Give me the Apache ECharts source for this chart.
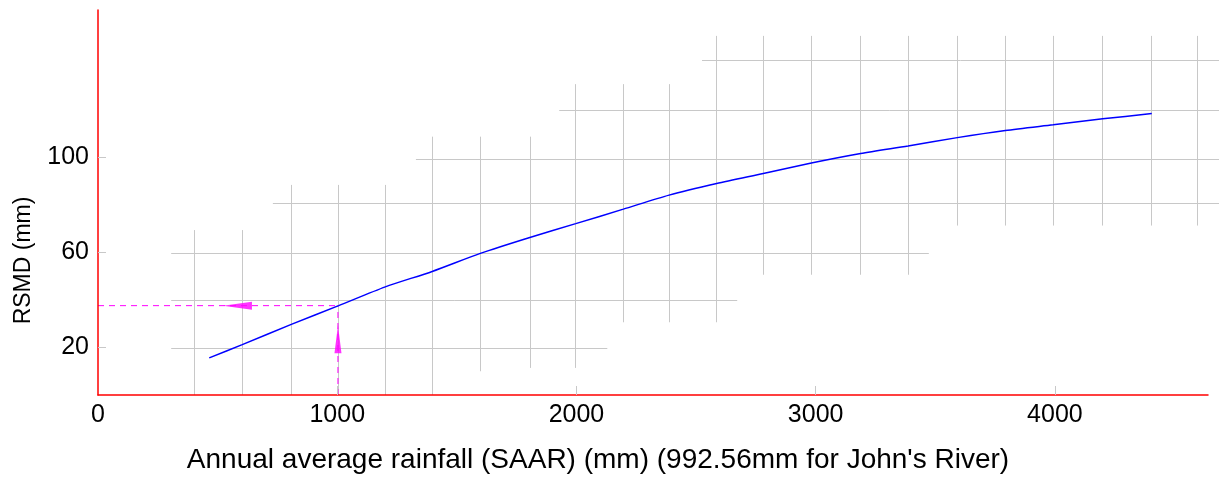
<!DOCTYPE html>
<html>
<head>
<meta charset="utf-8">
<script src="https://cdn.jsdelivr.net/npm/echarts@6/dist/echarts.min.js"></script>
<style>
html,body{margin:0;padding:0;background:#fff;}
#chart{width:1219px;height:477px;}
</style>
</head>
<body>
<div id="chart"></div>
<script>
// ---- data ----
const xMax = 4640;
const yMax = 162;
const xTickLabels = [0, 1000, 2000, 3000, 4000];
const xTickMarks = [1000, 2000, 3000, 4000];
const yTickLabels = [20, 60, 100];

// RSMD curve
const rainfall = [465, 603, 808, 1006, 1201, 1397, 1598, 1805, 1997, 2196, 2387, 2586, 2781, 2982, 3188, 3386, 3592, 3793, 3993, 4200, 4405];
const rsmd     = [15.6, 21.2, 29.7, 37.6, 45.5, 52.0, 59.6, 66.3, 72.1, 78.2, 84.1, 89.0, 93.2, 97.6, 101.6, 104.8, 108.3, 111.3, 113.7, 116.2, 118.4];

// staircase grid: horizontal segments
const hGridY    = [19.8, 40.0, 59.7, 80.7, 99.2, 120.0, 140.8];
const hGridFrom = [306, 306, 306, 731, 1329, 1928, 2525];
const hGridTo   = [2129, 2672, 3473, 4687, 4687, 4687, 4687];

// staircase grid: vertical segments
const vGridX    = [404, 603, 808, 1006, 1201, 1397, 1598, 1805, 1997, 2196, 2387, 2586, 2781, 2982, 3188, 3386, 3592, 3793, 3993, 4200, 4401, 4593];
const vGridFrom = [0, 0, 0, 0, 0, 0, 10.0, 11.4, 11.4, 30.6, 30.6, 30.6, 50.6, 50.6, 50.6, 50.6, 71.3, 71.3, 71.3, 71.3, 71.3, 71.3];
const vGridTo   = [69.4, 69.4, 88.4, 88.4, 88.4, 108.7, 108.7, 108.7, 130.8, 130.8, 130.8, 151.1, 151.1, 151.1, 151.1, 151.1, 151.1, 151.1, 151.1, 151.1, 151.1, 151.1];

// read-off for John's River
const readX = 1003;
const readY = 37.6;
const leftArrowAt = [583, 37.6];
const upArrowAt = [1003, 23.5];

// ---- build ----
const gridSegs = [];
hGridY.forEach((y, i) => gridSegs.push({coords: [[hGridFrom[i], y], [hGridTo[i], y]]}));
vGridX.forEach((x, i) => gridSegs.push({coords: [[x, vGridFrom[i]], [x, vGridTo[i]]]}));

const FONT = 'Liberation Sans, Arial, sans-serif';
const chart = echarts.init(document.getElementById('chart'), null, {renderer: 'canvas'});
chart.setOption({
  animation: false,
  backgroundColor: '#ffffff',
  grid: {left: 98, right: 11, top: 10, bottom: 82, containLabel: false, outerBoundsMode: 'none'},
  xAxis: {
    type: 'value', min: 0, max: xMax, interval: 1000, z: 10,
    name: "Annual average rainfall (SAAR) (mm) (992.56mm for John's River)",
    nameLocation: 'middle', nameGap: 51,
    nameTextStyle: {fontFamily: FONT, fontSize: 28, color: '#000', padding: [0, 110, 0, 0]},
    axisLine: {show: true, onZero: false, lineStyle: {color: '#ff0000', width: 1.5}},
    axisTick: {show: true, inside: true, length: 9, lineStyle: {color: '#c8c8c8'}, customValues: xTickMarks},
    axisLabel: {fontFamily: FONT, fontSize: 25, color: '#000', margin: 8, customValues: xTickLabels,
      formatter: v => String(v)},
    splitLine: {show: false}
  },
  yAxis: {
    type: 'value', min: 0, max: yMax, interval: 20, z: 10,
    name: 'RSMD (mm)',
    nameLocation: 'middle', nameGap: 63, nameRotate: 90,
    nameTextStyle: {fontFamily: FONT, fontSize: 23, color: '#000', padding: [0, 116, 0, 0]},
    axisLine: {show: true, onZero: false, lineStyle: {color: '#ff0000', width: 1.5}},
    axisTick: {show: true, inside: true, length: 8, lineStyle: {color: '#c8c8c8'}, customValues: yTickLabels},
    axisLabel: {fontFamily: FONT, fontSize: 25, color: '#000', margin: 9, customValues: yTickLabels,
      formatter: v => String(v)},
    splitLine: {show: false}
  },
  series: [
    {
      type: 'lines', coordinateSystem: 'cartesian2d', clip: false, silent: true, z: 1,
      lineStyle: {color: '#c8c8c8', width: 1, opacity: 1},
      data: gridSegs
    },
    {
      type: 'line', name: 'RSMD', showSymbol: false, clip: false, z: 5, smooth: 0.25,
      lineStyle: {color: '#0000ff', width: 1.5},
      data: rainfall.map((x, i) => [x, rsmd[i]])
    },
    {
      type: 'line', showSymbol: false, z: 4,
      lineStyle: {color: '#ff00ff', width: 1, type: [6, 5]},
      data: [[0, readY], [readX, readY]]
    },
    {
      type: 'line', showSymbol: false, z: 4,
      lineStyle: {color: '#ff00ff', width: 1, type: [6, 5]},
      data: [[readX, 0], [readX, readY]]
    },
    {
      type: 'scatter', z: 6, silent: true,
      symbol: 'path://M0,5 L10,0 L10,10 Z', symbolSize: [29, 8],
      itemStyle: {color: '#ff00ff'},
      data: [leftArrowAt]
    },
    {
      type: 'scatter', z: 6, silent: true,
      symbol: 'path://M5,0 L10,10 L0,10 Z', symbolSize: [7, 28],
      itemStyle: {color: '#ff00ff'},
      data: [upArrowAt]
    }
  ]
});
</script>
</body>
</html>
